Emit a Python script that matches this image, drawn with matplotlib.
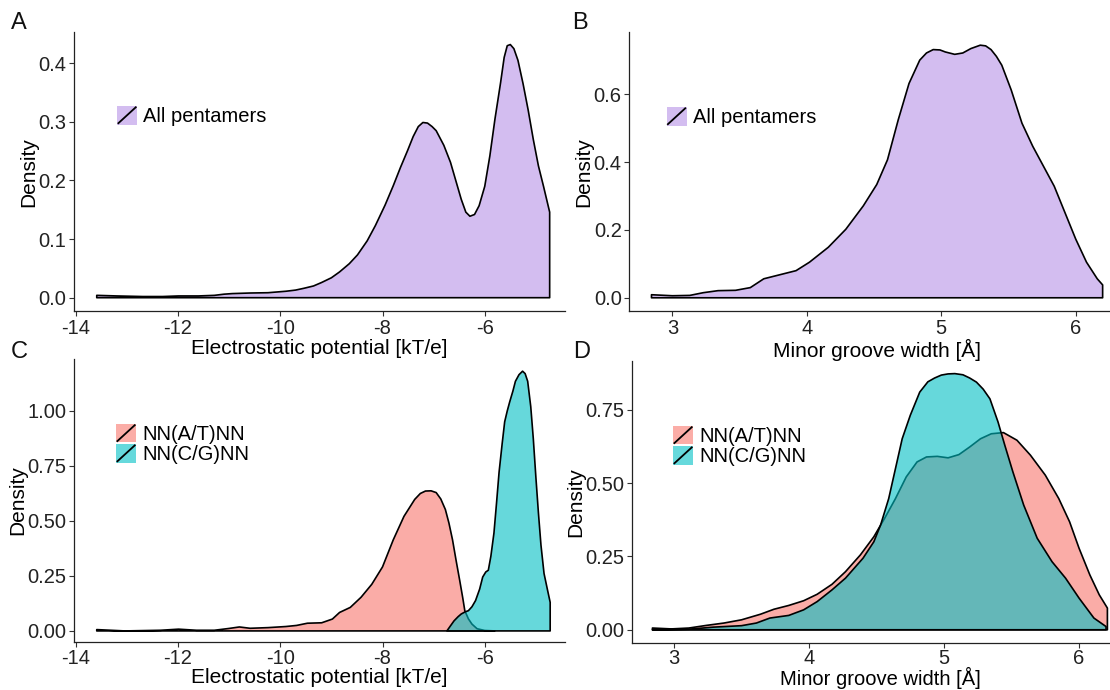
import matplotlib
matplotlib.use("Agg")
import matplotlib.pyplot as plt
import numpy as np
from matplotlib.legend_handler import HandlerBase
from matplotlib.patches import Patch, Rectangle
from matplotlib.lines import Line2D
from matplotlib.ticker import FormatStrFormatter

plt.rcParams['font.family'] = ['Liberation Sans', 'DejaVu Sans']
plt.rcParams['axes.unicode_minus'] = False

# --- data ------------------------------------------------------------------
# A: electrostatic potential, all pentamers
ep_all_x = [-13.59, -13.2, -12.69, -12.3, -11.99, -11.6, -11.29, -11.1, -10.94, -10.59,
            -10.24, -9.89, -9.7, -9.54, -9.35, -9.19, -9.0, -8.84, -8.65, -8.49, -8.3,
            -8.14, -7.95, -7.79, -7.65, -7.51, -7.4, -7.3, -7.21, -7.12, -7.03, -6.95,
            -6.8, -6.67, -6.55, -6.46, -6.37, -6.29, -6.2, -6.11, -6.0, -5.9, -5.8,
            -5.69, -5.62, -5.56, -5.5, -5.43, -5.35, -5.25, -5.15, -5.05, -4.95, -4.85,
            -4.73]
ep_all_y = [0.004, 0.003, 0.002, 0.002, 0.003, 0.003, 0.004, 0.006, 0.007, 0.008,
            0.0085, 0.011, 0.013, 0.016, 0.020, 0.026, 0.034, 0.044, 0.058, 0.073, 0.097,
            0.123, 0.158, 0.191, 0.222, 0.251, 0.275, 0.292, 0.299, 0.298, 0.292, 0.285,
            0.260, 0.231, 0.195, 0.168, 0.146, 0.139, 0.142, 0.157, 0.190, 0.242, 0.305,
            0.367, 0.410, 0.430, 0.432, 0.425, 0.405, 0.365, 0.320, 0.270, 0.225, 0.190,
            0.146]

# B: minor groove width, all pentamers
mgw_all_x = [2.845, 3.0, 3.13, 3.23, 3.34, 3.47, 3.58, 3.68, 3.79, 3.92, 4.02, 4.16, 4.29,
             4.42, 4.52, 4.60, 4.68, 4.76, 4.84, 4.89, 4.94, 4.99, 5.03, 5.10, 5.16, 5.22,
             5.29, 5.33, 5.37, 5.41, 5.45, 5.52, 5.60, 5.68, 5.76, 5.84, 5.92, 6.0, 6.08,
             6.16, 6.20]
mgw_all_y = [0.009, 0.006, 0.007, 0.015, 0.021, 0.022, 0.030, 0.056, 0.067, 0.080, 0.105,
             0.149, 0.202, 0.271, 0.334, 0.407, 0.525, 0.632, 0.701, 0.722, 0.732, 0.731,
             0.725, 0.718, 0.722, 0.735, 0.745, 0.743, 0.732, 0.712, 0.686, 0.613, 0.515,
             0.447, 0.388, 0.329, 0.251, 0.173, 0.105, 0.056, 0.038]

# C: electrostatic potential by central base pair
ep_at_x = [-13.59, -13.04, -12.34, -11.99, -11.64, -11.29, -11.01, -10.80, -10.59, -10.24,
           -9.89, -9.68, -9.47, -9.19, -8.98, -8.84, -8.63, -8.42, -8.21, -8.0, -7.79,
           -7.58, -7.37, -7.26, -7.16, -7.05, -6.95, -6.86, -6.77, -6.70, -6.63, -6.56,
           -6.49, -6.43, -6.39, -6.32, -6.25, -6.15, -6.0, -5.8]
ep_at_y = [0.006, 0.0, 0.003, 0.008, 0.003, 0.003, 0.011, 0.018, 0.012, 0.015,
           0.020, 0.025, 0.035, 0.037, 0.054, 0.084, 0.107, 0.153, 0.212, 0.291, 0.414,
           0.521, 0.598, 0.625, 0.636, 0.637, 0.629, 0.600, 0.552, 0.490, 0.414, 0.320,
           0.230, 0.150, 0.092, 0.055, 0.031, 0.010, 0.002, 0.0]
ep_cg_x = [-6.74, -6.68, -6.60, -6.52, -6.46, -6.38, -6.32, -6.25, -6.18, -6.10, -6.04,
           -5.98, -5.93, -5.88, -5.82, -5.77, -5.72, -5.66, -5.61, -5.56, -5.51, -5.45,
           -5.40, -5.33, -5.26, -5.21, -5.16, -5.10, -5.05, -5.0, -4.95, -4.90, -4.84,
           -4.77, -4.72]
ep_cg_y = [0.0, 0.020, 0.046, 0.065, 0.077, 0.087, 0.092, 0.110, 0.138, 0.190, 0.245,
           0.268, 0.276, 0.340, 0.445, 0.580, 0.721, 0.850, 0.951, 1.000, 1.043, 1.090,
           1.135, 1.165, 1.181, 1.170, 1.135, 1.020, 0.874, 0.700, 0.537, 0.390, 0.261,
           0.184, 0.130]

# D: minor groove width by central base pair
mgw_at_x = [2.84, 2.98, 3.11, 3.24, 3.37, 3.50, 3.64, 3.74, 3.85, 3.96, 4.06, 4.17, 4.27,
            4.38, 4.48, 4.56, 4.64, 4.72, 4.80, 4.87, 4.95, 5.03, 5.11, 5.19, 5.27, 5.35,
            5.44, 5.54, 5.64, 5.75, 5.85, 5.93, 6.0, 6.08, 6.15, 6.21]
mgw_at_y = [0.006, 0.003, 0.006, 0.015, 0.023, 0.034, 0.053, 0.070, 0.083, 0.099, 0.121,
            0.155, 0.198, 0.255, 0.317, 0.380, 0.447, 0.521, 0.572, 0.589, 0.591, 0.586,
            0.597, 0.623, 0.651, 0.668, 0.672, 0.646, 0.595, 0.527, 0.447, 0.368, 0.278,
            0.187, 0.119, 0.074]
mgw_cg_x = [2.84, 3.11, 3.29, 3.50, 3.61, 3.71, 3.85, 3.96, 4.06, 4.17, 4.27, 4.40, 4.48,
            4.53, 4.59, 4.64, 4.69, 4.75, 4.82, 4.88, 4.93, 4.98, 5.03, 5.08, 5.14, 5.19,
            5.24, 5.29, 5.34, 5.40, 5.45, 5.51, 5.59, 5.69, 5.80, 5.90, 6.0, 6.11, 6.20]
mgw_cg_y = [0.0, 0.002, 0.009, 0.014, 0.023, 0.040, 0.049, 0.068, 0.096, 0.136, 0.176,
            0.244, 0.300, 0.357, 0.447, 0.549, 0.651, 0.731, 0.810, 0.845, 0.858, 0.868,
            0.872, 0.873, 0.869, 0.858, 0.844, 0.820, 0.787, 0.708, 0.629, 0.538, 0.425,
            0.312, 0.232, 0.176, 0.108, 0.040, 0.011]

label_all = "All pentamers"
label_at = "NN(A/T)NN"
label_cg = "NN(C/G)NN"
xlabel_ep = "Electrostatic potential [kT/e]"
xlabel_mgw = "Minor groove width [Å]"

purple = '#D3BDF0'
pink = '#F8766D'
teal = '#00BFC4'

W, H = 1110, 690
fig = plt.figure(figsize=(W / 100, H / 100), dpi=100)


def px_axes(left, right, top, bottom):
    return fig.add_axes([left / W, 1 - bottom / H, (right - left) / W, (bottom - top) / H])


class SlashKey(HandlerBase):
    def create_artists(self, legend, orig_handle, xdescent, ydescent, width, height, fontsize, trans):
        x0, y0 = -xdescent, -ydescent
        rect = Rectangle((x0, y0), width, height, facecolor=orig_handle.get_facecolor(),
                         edgecolor='none', transform=trans)
        line = Line2D([x0 + 1, x0 + width - 1], [y0 + 1, y0 + height - 1], color='black',
                      lw=1.3, transform=trans)
        return [rect, line]


def density(ax, x, y, color, alpha):
    xs = np.r_[x[0], x, x[-1]]
    ys = np.r_[0, y, 0]
    ax.fill(xs, ys, facecolor=color, alpha=alpha, edgecolor='none')
    ax.fill(xs, ys, facecolor='none', edgecolor='black', lw=1.2, joinstyle='round')


def style(ax, xlim, ylim, xticks, yticks, yfmt, xlabel, xpad=1, tpad=2, xsize=15):
    ax.set_xlim(*xlim)
    ax.set_ylim(*ylim)
    ax.set_xticks(xticks)
    ax.set_yticks(yticks)
    ax.yaxis.set_major_formatter(FormatStrFormatter(yfmt))
    for s in ['top', 'right']:
        ax.spines[s].set_visible(False)
    for s in ['left', 'bottom']:
        ax.spines[s].set_linewidth(0.9)
        ax.spines[s].set_color('#222222')
    ax.tick_params(length=3.5, width=0.8, color='#333333', labelsize=14.5, labelcolor='#222222', pad=2)
    ax.tick_params(axis='x', pad=tpad)
    ax.set_xlabel(xlabel, fontsize=xsize, labelpad=xpad)
    ax.set_ylabel("Density", fontsize=15, labelpad=0)


def legend(ax, handles, labels, cx, cy):
    ax.legend(handles, labels, handler_map={Patch: SlashKey()}, loc='center left',
              bbox_to_anchor=(cx / W, 1 - cy / H), bbox_transform=fig.transFigure,
              frameon=False, fontsize=14.5, handlelength=1.0, handleheight=1.05,
              handletextpad=0.3, labelspacing=0.0, borderpad=0, borderaxespad=0)


# A
axA = px_axes(74, 565, 32.3, 311)
density(axA, ep_all_x, ep_all_y, purple, 1.0)
style(axA, (-14.035, -4.43), (-0.0227, 0.4529), [-14, -12, -10, -8, -6],
      [0, 0.1, 0.2, 0.3, 0.4], '%.1f', xlabel_ep)
legend(axA, [Patch(facecolor=purple)], [label_all], 117, 116)

# B
axB = px_axes(629.3, 1125.5, 32.3, 311)
density(axB, mgw_all_x, mgw_all_y, purple, 1.0)
style(axB, (2.68, 6.37), (-0.039, 0.783), [3, 4, 5, 6], [0, 0.2, 0.4, 0.6], '%.1f', xlabel_mgw)
legend(axB, [Patch(facecolor=purple)], [label_all], 666.5, 117)

# C
axC = px_axes(74, 565, 359.3, 641.7)
density(axC, ep_at_x, ep_at_y, pink, 0.6)
density(axC, ep_cg_x, ep_cg_y, teal, 0.6)
style(axC, (-14.035, -4.43), (-0.049, 1.235), [-14, -12, -10, -8, -6],
      [0, 0.25, 0.5, 0.75, 1.0], '%.2f', xlabel_ep, xpad=0, tpad=1.5)
legend(axC, [Patch(facecolor='#FBADA7'), Patch(facecolor='#66D9DC')], [label_at, label_cg], 116, 444)

# D
axD = px_axes(631.5, 1129, 360.7, 642.7)
density(axD, mgw_at_x, mgw_at_y, pink, 0.6)
density(axD, mgw_cg_x, mgw_cg_y, teal, 0.6)
style(axD, (2.685, 6.37), (-0.044, 0.917), [3, 4, 5, 6], [0, 0.25, 0.5, 0.75], '%.2f', xlabel_mgw,
      xpad=-0.5, tpad=1.0, xsize=14.5)
legend(axD, [Patch(facecolor='#FBADA7'), Patch(facecolor='#66D9DC')], [label_at, label_cg], 673, 446)

for letter, (lx, ly) in zip("ABCD", [(19, 23), (580, 23), (19, 352), (582, 352)]):
    fig.text(lx / W, 1 - ly / H, letter, fontsize=17, ha='center', va='center', color='#111111')

fig.savefig('out.png', dpi=100)
